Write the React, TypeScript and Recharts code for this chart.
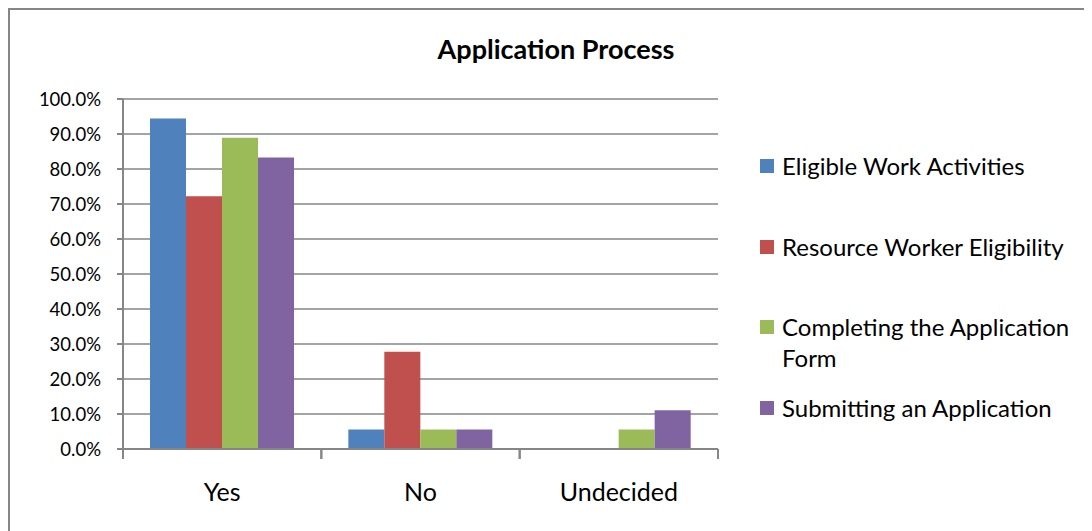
import { Bar, BarChart, CartesianGrid, Legend, XAxis, YAxis } from "recharts";

const categories = ["Yes", "No", "Undecided"];
const eligibleWork = [0.944, 0.056, 0];
const workerEligibility = [0.722, 0.278, 0];
const completingForm = [0.889, 0.056, 0.056];
const submitting = [0.833, 0.056, 0.111];
const yTicks = [0, 0.1, 0.2, 0.3, 0.4, 0.5, 0.6, 0.7, 0.8, 0.9, 1];

const series = [
  { key: "work", name: "Eligible Work Activities", color: "#4F81BD" },
  { key: "worker", name: "Resource Worker Eligibility", color: "#C0504D" },
  { key: "form", name: "Completing the Application Form", color: "#9BBB59" },
  { key: "submit", name: "Submitting an Application", color: "#8064A2" },
];

const data = categories.map((c, i) => ({
  category: c,
  work: eligibleWork[i],
  worker: workerEligibility[i],
  form: completingForm[i],
  submit: submitting[i],
}));

const FONT = "Lato, 'Open Sans', sans-serif";
const AXIS = "#868686";
const W = 1082;
const H = 521;
const LEGEND_W = 340;
// the vertical legend on the right takes LEGEND_W out of the plot on its own
const M = { top: 89, right: 374 - LEGEND_W, bottom: 42, left: 0 };
const Y_W = 113;
const BAND = (W - 374 - Y_W) / categories.length;

function CategoryTick(props: any) {
  const { x, y, payload } = props;
  const half = BAND / 2;
  return (
    <g>
      <line x1={x - half} x2={x - half} y1={y - 8} y2={y + 2} stroke={AXIS} strokeWidth={2} />
      <line x1={x + half} x2={x + half} y1={y - 8} y2={y + 2} stroke={AXIS} strokeWidth={2} />
      <text x={x} y={y + 44} textAnchor="middle" fontSize={25} fontFamily={FONT} fill="#000">
        {payload.value}
      </text>
    </g>
  );
}

function SideLegend({ payload }: any) {
  return (
    <div style={{ fontFamily: FONT, fontSize: 24, color: "#000" }}>
      {(payload || []).map((p: any) => (
        <div key={p.value} style={{ display: "flex", height: 80.5, lineHeight: "31px" }}>
          <span
            style={{
              width: 14,
              height: 14,
              background: p.color,
              marginTop: 9,
              marginRight: 8,
              flex: "none",
            }}
          />
          <span style={{ width: 300 }}>{p.value}</span>
        </div>
      ))}
    </div>
  );
}

const order = (item: any) => series.findIndex((s) => s.key === item.dataKey);

export default function App() {
  return (
    <div
      style={{
        position: "relative",
        width: W,
        height: H,
        borderLeft: `2px solid ${AXIS}`,
        borderTop: `2px solid ${AXIS}`,
        background: "#fff",
      }}
    >
      <div
        style={{
          position: "absolute",
          left: 246,
          width: 600,
          top: 22,
          textAlign: "center",
          fontFamily: FONT,
          fontWeight: "bold",
          fontSize: 27,
          color: "#000",
        }}
      >
        Application Process
      </div>
      <BarChart width={W} height={H} data={data} margin={M} barCategoryGap={27} barGap={0}>
        <CartesianGrid vertical={false} stroke={AXIS} strokeWidth={1.6} />
        <XAxis
          dataKey="category"
          height={40}
          stroke={AXIS}
          strokeWidth={2}
          tickLine={false}
          tick={<CategoryTick />}
          interval={0}
        />
        <YAxis
          width={Y_W}
          domain={[0, 1]}
          ticks={yTicks}
          interval={0}
          stroke={AXIS}
          strokeWidth={2}
          tickSize={6}
          tickMargin={16}
          tickFormatter={(v: number) => `${(v * 100).toFixed(1)}%`}
          tick={{ fontSize: 18.5, fontFamily: FONT, fill: "#000" }}
        />
        <Legend
          layout="vertical"
          align="right"
          verticalAlign="top"
          itemSorter={order}
          content={<SideLegend />}
          wrapperStyle={{ position: "absolute", left: 750, top: 140, width: LEGEND_W, height: 340 }}
        />
        {series.map((s) => (
          <Bar key={s.key} dataKey={s.key} name={s.name} fill={s.color} isAnimationActive={false} />
        ))}
      </BarChart>
    </div>
  );
}
